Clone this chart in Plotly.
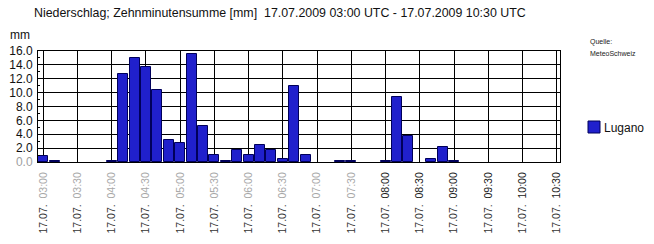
import plotly.graph_objects as go

# --- data ---
times = ["03:00", "03:10", "03:20", "03:30", "03:40", "03:50",
         "04:00", "04:10", "04:20", "04:30", "04:40", "04:50",
         "05:00", "05:10", "05:20", "05:30", "05:40", "05:50",
         "06:00", "06:10", "06:20", "06:30", "06:40", "06:50",
         "07:00", "07:10", "07:20", "07:30", "07:40", "07:50",
         "08:00", "08:10", "08:20", "08:30", "08:40", "08:50",
         "09:00", "09:10", "09:20", "09:30", "09:40", "09:50",
         "10:00", "10:10", "10:20", "10:30"]
lugano = [0.8, 0.1, 0.0, 0.0, 0.0, 0.0,
          0.1, 12.7, 15.0, 13.7, 10.4, 3.2,
          2.8, 15.6, 5.2, 1.0, 0.1, 1.7,
          1.0, 2.4, 1.7, 0.5, 11.0, 1.0,
          0.0, 0.0, 0.1, 0.1, 0.0, 0.0,
          0.1, 9.4, 3.8, 0.0, 0.5, 2.2,
          0.1, 0.0, 0.0, 0.0, 0.0, 0.0,
          0.0, 0.0, 0.0, 0.0]
tick_times = ["03:00", "03:30", "04:00", "04:30", "05:00", "05:30", "06:00", "06:30",
              "07:00", "07:30", "08:00", "08:30", "09:00", "09:30", "10:00", "10:30"]
tick_date = "17.07."
y_ticks = [0, 2, 4, 6, 8, 10, 12, 14, 16]
y_labels = ["0.0", "2.0", "4.0", "6.0", "8.0", "10.0", "12.0", "14.0", "16.0"]

DAY = "2009-07-17 "
x = [DAY + t for t in times]
tickvals = [DAY + t for t in tick_times]
ticktext = []
for t in tick_times:
    col = "#a8a8a8" if t < "08:00" else "#222222"
    ticktext.append('<span style="color:#333333">' + tick_date + '</span>'
                    + "\u00a0\u00a0"
                    + '<span style="color:' + col + '">' + t + '</span>')
y_ticktext = ['<span style="color:#a0a0a0">' + s + '</span>' if v == 0 else s
              for v, s in zip(y_ticks, y_labels)]

W, H = 654, 244
L, R, T, B = 38, 94, 51, 82
PW, PH = W - L - R, H - T - B

def px(p):
    return (p - L) / PW

def py(p):
    return (T + PH - p) / PH

FONT = "Arial, Liberation Sans, sans-serif"
BAR_FILL = "#2020cc"
BAR_LINE = "#00005a"

fig = go.Figure()
fig.add_trace(go.Bar(
    x=x, y=lugano, name="Lugano",
    width=528000,
    marker=dict(color=BAR_FILL,
                line=dict(color=BAR_LINE, width=[1 if v > 0 else 0 for v in lugano])),
    showlegend=False,
))

fig.update_layout(
    width=W, height=H,
    margin=dict(l=L, r=R, t=T, b=B, pad=0, autoexpand=False),
    paper_bgcolor="white", plot_bgcolor="white",
    font=dict(family=FONT, size=12, color="#111111"),
    bargap=0,
)
fig.update_xaxes(
    type="date", automargin=False,
    range=[DAY + "02:55:24", DAY + "10:32:53"],
    tickmode="array", tickvals=tickvals, ticktext=ticktext,
    tickangle=-90, tickfont=dict(size=10.5, family=FONT),
    ticks="", ticklabelstandoff=5,
    showgrid=True, gridcolor="#000000", gridwidth=1,
    showline=True, linecolor="#000000", linewidth=1, mirror=True,
    zeroline=False,
)
fig.update_yaxes(
    range=[0, 16], automargin=False,
    tickmode="array", tickvals=y_ticks, ticktext=y_ticktext,
    tickfont=dict(size=12, family=FONT, color="#111111"),
    ticks="inside", ticklen=3, tickcolor="#000000",
    minor=dict(ticks="inside", ticklen=2, dtick=1, tickcolor="#000000", showgrid=False),
    showgrid=True, gridcolor="#000000", gridwidth=1,
    showline=True, linecolor="#000000", linewidth=1, mirror=True,
    zeroline=False, ticklabelstandoff=2,
)

# Title and labels
fig.add_annotation(text="Niederschlag; Zehnminutensumme [mm]\u00a0\u00a017.07.2009 03:00 UTC - 17.07.2009 10:30 UTC",
                   xref="paper", yref="paper", x=px(32), y=py(12.5),
                   xanchor="left", yanchor="middle", showarrow=False,
                   font=dict(size=12.4, family=FONT, color="#111111"))
fig.add_annotation(text="mm", xref="paper", yref="paper", x=px(8), y=py(35),
                   xanchor="left", yanchor="middle", showarrow=False,
                   font=dict(size=12, family=FONT, color="#111111"))
fig.add_annotation(text="Quelle:", xref="paper", yref="paper", x=px(588), y=py(42.5),
                   xanchor="left", yanchor="middle", showarrow=False,
                   font=dict(size=7, family=FONT, color="#222222"))
fig.add_annotation(text="MeteoSchweiz", xref="paper", yref="paper", x=px(588), y=py(53.5),
                   xanchor="left", yanchor="middle", showarrow=False,
                   font=dict(size=7, family=FONT, color="#222222"))

# Legend (manual swatch + label)
fig.add_shape(type="rect", xref="paper", yref="paper",
              x0=px(588), x1=px(600), y0=py(133), y1=py(121),
              fillcolor=BAR_FILL, line=dict(color=BAR_LINE, width=1))
fig.add_annotation(text="Lugano", xref="paper", yref="paper", x=px(602), y=py(127.5),
                   xanchor="left", yanchor="middle", showarrow=False,
                   font=dict(size=12, family=FONT, color="#111111"))

fig.write_html("out.html")
